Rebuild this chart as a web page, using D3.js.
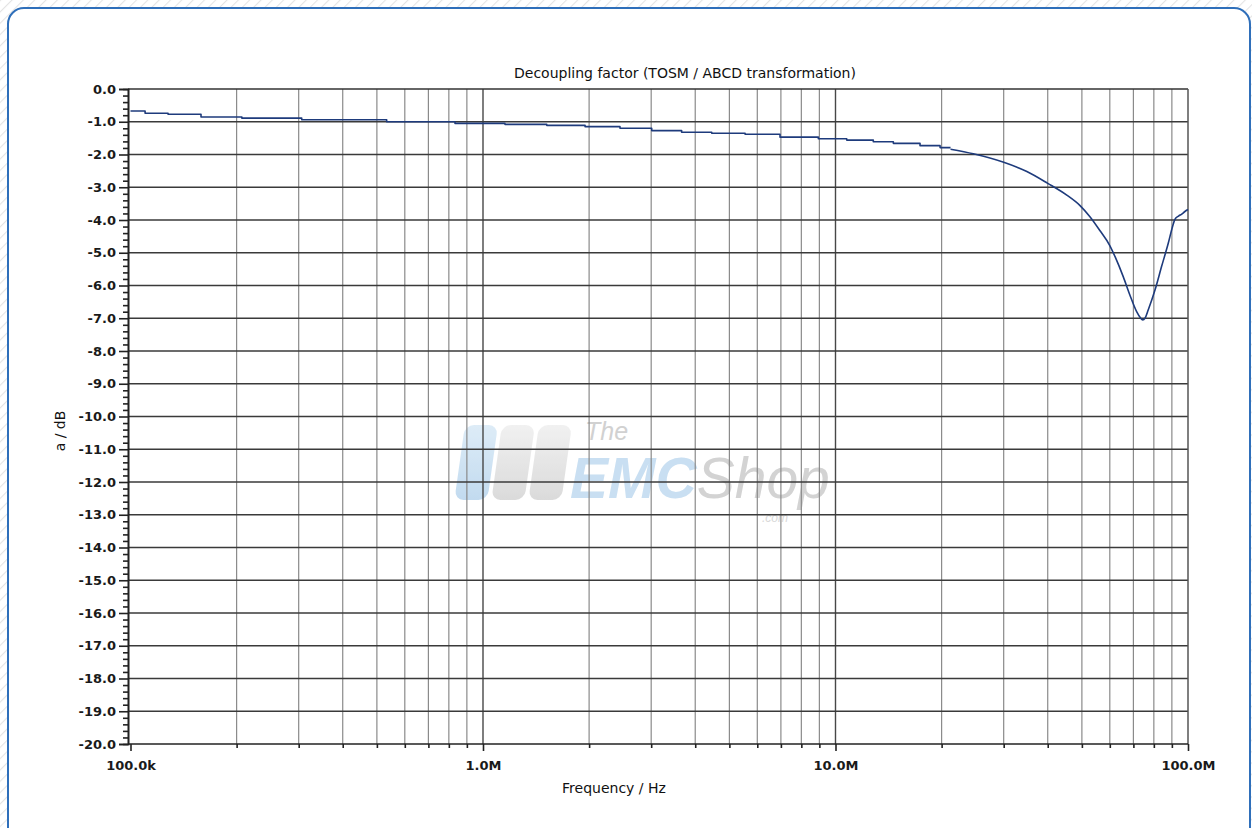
<!DOCTYPE html>
<html><head><meta charset="utf-8">
<script src="https://cdn.jsdelivr.net/npm/d3@7"></script>
<style>html,body{margin:0;padding:0;background:#fff;overflow:hidden}</style>
</head><body><svg id="c" width="1252" height="828"></svg>
<script>
// ---- data ----
// stepped low-frequency part: step i holds stepDb[i] from stepFreq[i] to stepFreq[i+1]
const stepFreq = [1.0e5, 1.10e5, 1.278e5, 1.585e5, 2.07e5, 3.06e5, 5.33e5, 8.33e5, 1.154e6, 1.516e6,
                  1.948e6, 2.447e6, 3.01e6, 3.66e6, 4.455e6, 5.54e6, 6.96e6, 8.94e6, 1.076e7, 1.28e7,
                  1.459e7, 1.737e7, 1.98e7, 2.12e7];
const stepDb   = [-0.67, -0.74, -0.77, -0.855, -0.89, -0.94, -1.0, -1.05, -1.08, -1.11,
                  -1.15, -1.2, -1.27, -1.32, -1.35, -1.38, -1.47, -1.52, -1.56, -1.61,
                  -1.66, -1.73, -1.79, -1.79];
// smooth high-frequency part
const sweepFreq = [2.12e7, 2.46e7, 3.0e7, 3.49e7, 4.0e7, 4.53e7, 4.94e7, 5.27e7, 5.63e7, 6.0e7,
                   6.21e7, 6.55e7, 6.84e7, 7.15e7, 7.32e7, 7.44e7, 7.55e7, 7.71e7, 8.06e7, 8.41e7,
                   8.79e7, 9.05e7, 9.18e7, 9.4e7, 9.6e7, 9.8e7, 1.0e8];
const sweepDb   = [-1.84, -1.98, -2.24, -2.52, -2.88, -3.24, -3.56, -3.9, -4.33, -4.78,
                   -5.12, -5.73, -6.29, -6.80, -6.98, -7.05, -7.0, -6.75, -6.14, -5.43,
                   -4.71, -4.18, -3.98, -3.88, -3.82, -3.74, -3.68];
const xDecades = [1e5, 1e6, 1e7, 1e8];
const xDecadeLabels = ["100.0k", "1.0M", "10.0M", "100.0M"];
const yTicks = [0, -1, -2, -3, -4, -5, -6, -7, -8, -9, -10, -11, -12, -13, -14, -15, -16, -17, -18, -19, -20];
const yTickLabels = ["0.0","-1.0","-2.0","-3.0","-4.0","-5.0","-6.0","-7.0","-8.0","-9.0","-10.0",
                     "-11.0","-12.0","-13.0","-14.0","-15.0","-16.0","-17.0","-18.0","-19.0","-20.0"];
const titleText = "Decoupling factor (TOSM / ABCD transformation)";
const xLabelText = "Frequency / Hz";
const yLabelText = "a / dB";

// ---- layout ----
const W = 1252, H = 828;
const L = 128, R = 1188, T = 89, B = 744;
const svg = d3.select("#c");
const font = "'DejaVu Sans', Verdana, sans-serif";

// background hatch + card
const defs = svg.append("defs");
const pat = defs.append("pattern").attr("id","hatch").attr("width",8).attr("height",8)
  .attr("patternUnits","userSpaceOnUse").attr("patternTransform","rotate(45)");
pat.append("rect").attr("width",8).attr("height",8).attr("fill","#ffffff");
pat.append("line").attr("x1",0).attr("y1",0).attr("x2",0).attr("y2",8)
  .attr("stroke","#e4e4e4").attr("stroke-width",2.2);
svg.append("rect").attr("width",W).attr("height",H).attr("fill","url(#hatch)");
svg.append("rect").attr("x",8).attr("y",8).attr("width",1242).attr("height",900)
  .attr("rx",16).attr("fill","#fff").attr("stroke","#2f6fba").attr("stroke-width",2);

// scales
const x = d3.scaleLog().domain([1e5, 1e8]).range([130.5, R]);
const y = d3.scaleLinear().domain([0, -20]).range([T, B]);

// watermark (behind grid)
const wm = svg.append("g").attr("opacity", 0.8);
const grad = defs.append("linearGradient").attr("id","wb").attr("x1",0).attr("y1",0).attr("x2",0).attr("y2",1);
grad.append("stop").attr("offset","0%").attr("stop-color","#d6e8f6");
grad.append("stop").attr("offset","100%").attr("stop-color","#b3d2ec");
const grad2 = defs.append("linearGradient").attr("id","wg").attr("x1",0).attr("y1",0).attr("x2",0).attr("y2",1);
grad2.append("stop").attr("offset","0%").attr("stop-color","#eeeeee");
grad2.append("stop").attr("offset","100%").attr("stop-color","#d2d2d2");
const bars = [[460,"url(#wb)"],[497,"url(#wg)"],[534,"url(#wg)"]];
bars.forEach(([bx,f]) => {
  wm.append("rect").attr("x",bx).attr("y",425).attr("width",33).attr("height",75).attr("rx",9)
    .attr("fill",f).attr("transform",`skewX(-8) translate(${0.14*462},0)`);
});
const wmFont = "'Liberation Sans', Arial, sans-serif";
wm.append("text").attr("x",585).attr("y",440).attr("font-family",wmFont).attr("font-style","italic")
  .attr("font-size",25).attr("fill","#c6c6c6").text("The");
const wmMain = wm.append("text").attr("x",570).attr("y",498).attr("font-family",wmFont).attr("font-style","italic");
wmMain.append("tspan").attr("font-weight","bold").attr("font-size",57).attr("fill","#bcd8ef").text("EMC");
wmMain.append("tspan").attr("font-size",57).attr("fill","#c9c9c9").text("Shop");
wm.append("text").attr("x",762).attr("y",522).attr("font-family",wmFont).attr("font-style","italic")
  .attr("font-size",12).attr("fill","#d0d0d0").text(".com");

// grid
const grid = svg.append("g");
const minorX = [];
for (let d = 0; d < 3; d++) for (let k = 2; k <= 9; k++) minorX.push(xDecades[d] * k);
grid.selectAll("line.vm").data(minorX).join("line")
  .attr("x1", d => x(d)).attr("x2", d => x(d)).attr("y1", T).attr("y2", B)
  .attr("stroke", "#8a8a8a").attr("stroke-width", 1.2);
grid.selectAll("line.vd").data([1e6, 1e7]).join("line").attr("class","vd")
  .attr("x1", d => x(d)).attr("x2", d => x(d)).attr("y1", T).attr("y2", B)
  .attr("stroke", "#474747").attr("stroke-width", 1.4);
grid.selectAll("line.h").data(yTicks.slice(1, -1)).join("line").attr("class","h")
  .attr("x1", L).attr("x2", R).attr("y1", d => y(d)).attr("y2", d => y(d))
  .attr("stroke", "#3a3a3a").attr("stroke-width", 1.3);

// frame (top + right)
svg.append("line").attr("x1",L).attr("x2",R).attr("y1",T).attr("y2",T).attr("stroke","#333").attr("stroke-width",1.5);
svg.append("line").attr("x1",R).attr("x2",R).attr("y1",T).attr("y2",B).attr("stroke","#555").attr("stroke-width",1.5);

// y axis
const yMinor = [];
for (let v = 0; v > -20; v -= 1) for (let m = 1; m <= 4; m++) yMinor.push(v - m * 0.2);
const yAxisMinor = d3.axisLeft(y).tickValues(yMinor).tickSize(5).tickFormat("");
const yAxis = d3.axisLeft(y).tickValues(yTicks).tickSize(9).tickPadding(3)
  .tickFormat((d, i) => yTickLabels[i]);
const gyM = svg.append("g").attr("transform",`translate(${L},0)`).call(yAxisMinor);
const gy = svg.append("g").attr("transform",`translate(${L},0)`).call(yAxis);
[gy, gyM].forEach(g => {
  g.select(".domain").attr("stroke","#222").attr("stroke-width",1.6);
  g.selectAll(".tick line").attr("stroke","#222").attr("stroke-width",1.6);
});
gy.selectAll("text").attr("font-family",font).attr("font-size",13).attr("font-weight","bold").attr("fill","#1a1a1a");

// x axis
const xAxisMinor = d3.axisBottom(x).tickValues(minorX).tickSize(4).tickFormat("");
const xAxis = d3.axisBottom(x).tickValues(xDecades).tickSize(7).tickPadding(10)
  .tickFormat((d, i) => xDecadeLabels[i]);
const gxM = svg.append("g").attr("transform",`translate(0,${B})`).call(xAxisMinor);
const gx = svg.append("g").attr("transform",`translate(0,${B})`).call(xAxis);
gxM.select(".domain").remove();
gx.select(".domain").attr("d", `M${L},0H${R}`).attr("stroke","#222").attr("stroke-width",1.6);
[gx, gxM].forEach(g => g.selectAll(".tick line").attr("stroke","#222").attr("stroke-width",1.6));
gx.selectAll("text").attr("font-family",font).attr("font-size",13).attr("font-weight","bold").attr("fill","#1a1a1a");

// curve: stepped part + smooth sweep
const stepPts = stepFreq.map((f, i) => [f, stepDb[i]]);
const sweepPts = sweepFreq.map((f, i) => [f, sweepDb[i]]);
const lineStep = d3.line().x(d => x(d[0])).y(d => y(d[1])).curve(d3.curveStepAfter);
const lineSweep = d3.line().x(d => x(d[0])).y(d => y(d[1])).curve(d3.curveMonotoneX);
const curveStyle = p => p.attr("fill","none").attr("stroke","#1e3b7c").attr("stroke-width",1.6)
  .attr("stroke-linejoin","round");
svg.append("path").datum(stepPts).attr("d", lineStep).call(curveStyle);
svg.append("path").datum(sweepPts).attr("d", lineSweep).call(curveStyle);

// titles
svg.append("text").attr("x",685).attr("y",78).attr("text-anchor","middle")
  .attr("font-family",font).attr("font-size",14).attr("fill","#111").text(titleText);
svg.append("text").attr("x",614).attr("y",793).attr("text-anchor","middle")
  .attr("font-family",font).attr("font-size",14).attr("fill","#111").text(xLabelText);
svg.append("text").attr("transform","translate(65,431) rotate(-90)").attr("text-anchor","middle")
  .attr("font-family",font).attr("font-size",14).attr("fill","#111").text(yLabelText);
</script>
</body></html>
